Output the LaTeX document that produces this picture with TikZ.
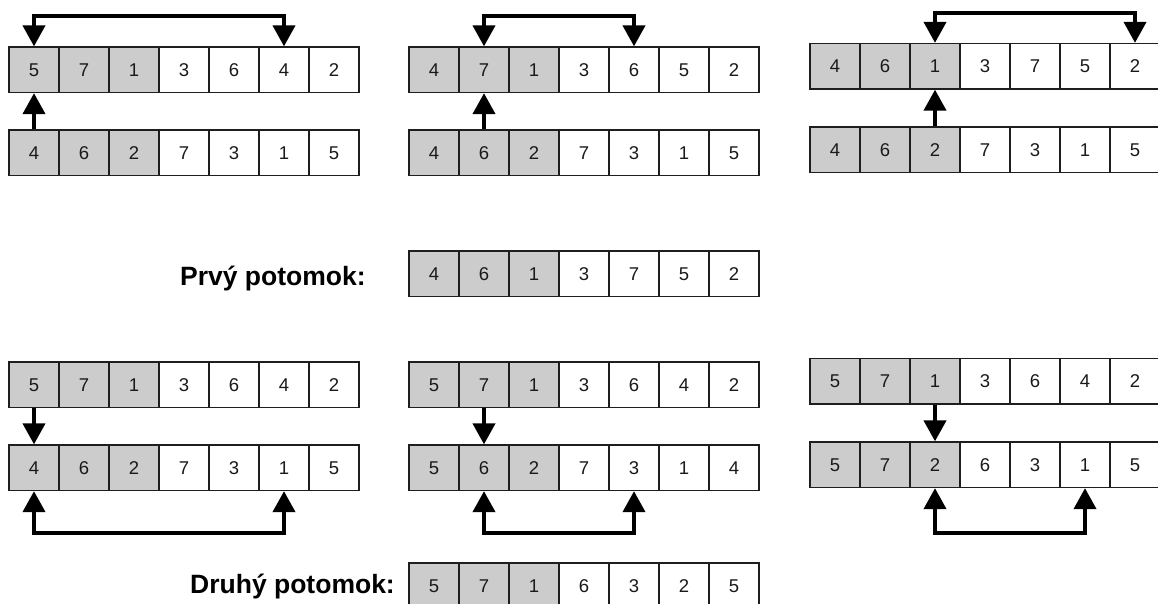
\documentclass[tikz,border=0pt]{standalone}
\usepackage{fontspec}
\setmainfont{Liberation Sans}
\usetikzlibrary{arrows.meta}

\definecolor{cellfill}{HTML}{CCCCCC}
\definecolor{cellline}{HTML}{1E1E1E}
\definecolor{digit}{HTML}{1A1A1A}

\tikzset{
  cellbox/.style={draw=cellline, line width=1.3pt, minimum width=50pt,
    minimum height=45.5pt, inner sep=0pt, text=digit,
    text height=13pt, text depth=0pt,
    font=\fontsize{18.5}{20}\selectfont},
  hot/.style={cellbox, fill=cellfill},
  cold/.style={cellbox, fill=white},
  tip/.tip={Triangle[width=22pt,length=21pt]},
  link/.style={line width=4pt, -tip},
  swap/.style={line width=4pt, tip-tip},
  caption/.style={font=\fontsize{26.5}{30}\selectfont\bfseries, inner sep=0pt,
    text=black, anchor=base west}
}

% \chromosome{name}{left x}{top y}{values}: seven cells, the first three shaded
\newcommand\chromosome[4]{%
  \foreach \v [count=\i] in {#4} {%
    \ifnum\i<4 \def\cellkind{hot}\else\def\cellkind{cold}\fi
    \node[\cellkind] (#1-\i) at ({#2+50*(\i-1)+25},{#3+22.75}) {\v};
  }%
}

\begin{document}
\begin{tikzpicture}[x=1pt, y=-1pt]
  \clip (0,0) rectangle (1158,603);
  \fill[white] (0,0) rectangle (1158,603);

  % first offspring: three steps
  \chromosome{pa}{9}{47}{5,7,1,3,6,4,2}
  \chromosome{pb}{9}{130}{4,6,2,7,3,1,5}
  \chromosome{qa}{409}{47}{4,7,1,3,6,5,2}
  \chromosome{qb}{409}{130}{4,6,2,7,3,1,5}
  \chromosome{ra}{810}{43.5}{4,6,1,3,7,5,2}
  \chromosome{rb}{810}{127}{4,6,2,7,3,1,5}

  \draw[link] (pb-1.north) -- (pa-1.south);
  \draw[swap] (pa-1.north) -- ++(0,-30) -| (pa-6.north);
  \draw[link] (qb-2.north) -- (qa-2.south);
  \draw[swap] (qa-2.north) -- ++(0,-30) -| (qa-5.north);
  \draw[link] (rb-3.north) -- (ra-3.south);
  \draw[swap] (ra-3.north) -- ++(0,-30) -| (ra-7.north);

  \node[caption] (first) at (180,285) {Prvý potomok:};
  \chromosome{child1}{409}{251}{4,6,1,3,7,5,2}

  % second offspring: three steps
  \chromosome{sa}{9}{362}{5,7,1,3,6,4,2}
  \chromosome{sb}{9}{445}{4,6,2,7,3,1,5}
  \chromosome{ta}{409}{362}{5,7,1,3,6,4,2}
  \chromosome{tb}{409}{445}{5,6,2,7,3,1,4}
  \chromosome{ua}{810}{358.5}{5,7,1,3,6,4,2}
  \chromosome{ub}{810}{442}{5,7,2,6,3,1,5}

  \draw[link] (sa-1.south) -- (sb-1.north);
  \draw[swap] (sb-1.south) -- ++(0,42) -| (sb-6.south);
  \draw[link] (ta-2.south) -- (tb-2.north);
  \draw[swap] (tb-2.south) -- ++(0,42) -| (tb-5.south);
  \draw[link] (ua-3.south) -- (ub-3.north);
  \draw[swap] (ub-3.south) -- ++(0,45) -| (ub-6.south);

  \node[caption] (second) at (190,593) {Druhý potomok:};
  \chromosome{child2}{409}{563}{5,7,1,6,3,2,5}
\end{tikzpicture}
\end{document}
